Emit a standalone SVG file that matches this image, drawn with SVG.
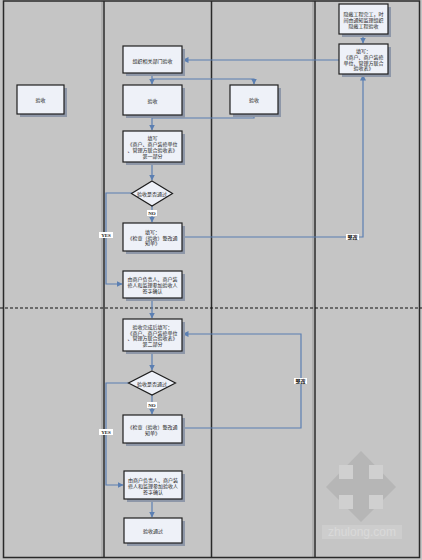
<svg xmlns="http://www.w3.org/2000/svg" width="422" height="560" viewBox="0 0 422 560">
<defs>
<style>
.bg{fill:#c5c5c5}
.lane{stroke:#2a2a2a;stroke-width:1.5;fill:none}
.lane2{stroke:#9a9a9a;stroke-width:1;fill:none}
.sh{fill:#8e97a8}
.box{fill:#eef1f8;stroke:#1e1e1e;stroke-width:1.2}
.t{font-family:"Noto Sans CJK SC","Liberation Serif",serif;font-size:5px;fill:#222;text-anchor:middle;dominant-baseline:central}
.c{stroke:#5b7fb2;stroke-width:1.2;fill:none}
.lbl{fill:#ffffff}
.lt{font-family:"Liberation Serif","Noto Sans CJK SC",serif;font-size:5px;font-weight:bold;fill:#222;text-anchor:middle;dominant-baseline:central}
</style>
<marker id="a" viewBox="0 0 6 6" refX="5.5" refY="3" markerWidth="5" markerHeight="5" orient="auto"><path d="M0,0L6,3L0,6z" fill="#5b7fb2"/></marker>
</defs>
<rect class="bg" x="0" y="0" width="422" height="560"/>
<g id="watermark" opacity="0.5">
<path d="M361,451L396,487L361,522L326,487z" fill="#a9a9a9"/>
<rect x="339" y="465" width="14" height="14" fill="#dcdcdc"/>
<rect x="369" y="465" width="14" height="14" fill="#dcdcdc"/>
<rect x="339" y="495" width="14" height="14" fill="#dcdcdc"/>
<rect x="369" y="495" width="14" height="14" fill="#dcdcdc"/>
<rect x="322" y="525" width="80" height="14" fill="#d6d6d6"/>
<text x="362" y="532" font-family="Liberation Sans,sans-serif" font-size="12" fill="#eeeeee" text-anchor="middle" dominant-baseline="central">zhulong.com</text>
</g>
<g id="lanes">
<line class="lane2" x1="102" y1="1" x2="102" y2="558"/>
<line class="lane2" x1="313" y1="1" x2="313" y2="558"/>
<rect class="lane" x="3.5" y="1" width="416" height="556.5"/>
<line class="lane" x1="104" y1="1" x2="104" y2="558"/>
<line class="lane" x1="211.5" y1="1" x2="211.5" y2="558"/>
<line class="lane" x1="315" y1="1" x2="315" y2="558"/>
<line x1="0" y1="308" x2="422" y2="308" stroke="#111" stroke-width="1.2" stroke-dasharray="3,2"/>
</g>
<g id="connectors">
<path class="c" d="M363,34V43" marker-end="url(#a)"/>
<path class="c" d="M339,60H183" marker-end="url(#a)"/>
<path class="c" d="M152,73V84" marker-end="url(#a)"/>
<path class="c" d="M152,79H254V84" marker-end="url(#a)"/>
<path class="c" d="M152,115V130" marker-end="url(#a)"/>
<path class="c" d="M254,114V118H152"/>
<path class="c" d="M152,162V180" marker-end="url(#a)"/>
<path class="c" d="M152,206V222" marker-end="url(#a)"/>
<path class="c" d="M132,193H106V284H122" marker-end="url(#a)"/>
<path class="c" d="M182,237H363V75" marker-end="url(#a)"/>
<path class="c" d="M152,298V318" marker-end="url(#a)"/>
<path class="c" d="M152,351V370" marker-end="url(#a)"/>
<path class="c" d="M152,395V414" marker-end="url(#a)"/>
<path class="c" d="M129,383H106V485H123" marker-end="url(#a)"/>
<path class="c" d="M182,428H301V334H183" marker-end="url(#a)"/>
<path class="c" d="M152,499V517" marker-end="url(#a)"/>
<rect class="lbl" x="147" y="210" width="10" height="6"/><text class="lt" x="152" y="213">NO</text>
<rect class="lbl" x="99" y="232" width="14" height="6"/><text class="lt" x="106" y="235">YES</text>
<rect class="lbl" x="346" y="234" width="13" height="6"/><text class="lt" x="352.5" y="237">整改</text>
<rect class="lbl" x="147" y="402" width="10" height="6"/><text class="lt" x="152" y="405">NO</text>
<rect class="lbl" x="99" y="429" width="14" height="6"/><text class="lt" x="106" y="432">YES</text>
<rect class="lbl" x="294" y="378" width="13" height="6"/><text class="lt" x="300.5" y="381">整改</text>
</g>
<g id="n1"><rect class="sh" x="342" y="7" width="49" height="30"/><rect class="box" x="339" y="4" width="49" height="30"/>
<text class="t" x="363.5" y="13">隐蔽工程完工，时</text><text class="t" x="363.5" y="19">间由通知监理组织</text><text class="t" x="363.5" y="25">隐蔽工程验收</text></g>
<g id="n2"><rect class="sh" x="342" y="47" width="49" height="30"/><rect class="box" x="339" y="44" width="49" height="30"/>
<text class="t" x="363.5" y="50.5">填写：</text><text class="t" x="363.5" y="56.3">《商户、商户装修</text><text class="t" x="363.5" y="62.1">单位、管理方联合</text><text class="t" x="363.5" y="67.9">验收表》</text></g>
<g id="n3"><rect class="sh" x="126" y="49" width="59" height="27"/><rect class="box" x="123" y="46" width="59" height="27"/>
<text class="t" x="152.5" y="60">组织相关部门验收</text></g>
<g id="n4"><rect class="sh" x="126" y="88" width="59" height="30"/><rect class="box" x="123" y="85" width="59" height="30"/>
<text class="t" x="152.5" y="100">验收</text></g>
<g id="n5"><rect class="sh" x="20" y="88" width="47" height="29"/><rect class="box" x="17" y="85" width="47" height="29"/>
<text class="t" x="40.5" y="99.5">验收</text></g>
<g id="n6"><rect class="sh" x="233" y="88" width="48" height="29"/><rect class="box" x="230" y="85" width="48" height="29"/>
<text class="t" x="254" y="99.5">验收</text></g>
<g id="n7"><rect class="sh" x="126" y="134" width="59" height="31"/><rect class="box" x="123" y="131" width="59" height="31"/>
<text class="t" x="152.5" y="137.8">填写</text><text class="t" x="152.5" y="143.6">《商户、商户装修单位</text><text class="t" x="152.5" y="149.4">、管理方联合验收表》</text><text class="t" x="152.5" y="155.2">第一部分</text></g>
<g id="d1"><path d="M152,181L172.5,193.5L152,206L131.5,193.5z" fill="#eef1f8" stroke="#1e1e1e" stroke-width="1.2"/>
<text class="t" x="152" y="193.5">验收是否通过</text></g>
<g id="n8"><rect class="sh" x="126" y="226" width="59" height="28"/><rect class="box" x="123" y="223" width="59" height="28"/>
<text class="t" x="152.5" y="231.2">填写：</text><text class="t" x="152.5" y="237">《检查（验收）整改通</text><text class="t" x="152.5" y="242.8">知单》</text></g>
<g id="n9"><rect class="sh" x="126" y="274" width="59" height="27"/><rect class="box" x="123" y="271" width="59" height="27"/>
<text class="t" x="152.5" y="278.7">由商户负责人、商户装</text><text class="t" x="152.5" y="284.5">修人和监理参加验收人</text><text class="t" x="152.5" y="290.3">签字确认</text></g>
<g id="n10"><rect class="sh" x="126" y="322" width="59" height="32"/><rect class="box" x="123" y="319" width="59" height="32"/>
<text class="t" x="152.5" y="326.3">验收完成后填写：</text><text class="t" x="152.5" y="332.1">《商户、商户装修单位</text><text class="t" x="152.5" y="337.9">、管理方联合验收表》</text><text class="t" x="152.5" y="343.7">第二部分</text></g>
<g id="d2"><path d="M152,371L175.5,383L152,395L128.5,383z" fill="#eef1f8" stroke="#1e1e1e" stroke-width="1.2"/>
<text class="t" x="152" y="383">验收是否通过</text></g>
<g id="n11"><rect class="sh" x="126" y="418" width="59" height="28"/><rect class="box" x="123" y="415" width="59" height="28"/>
<text class="t" x="152.5" y="426">《检查（验收）整改通</text><text class="t" x="152.5" y="432">知单》</text></g>
<g id="n12"><rect class="sh" x="127" y="474" width="58" height="28"/><rect class="box" x="124" y="471" width="58" height="28"/>
<text class="t" x="153" y="479">由商户负责人、商户装</text><text class="t" x="153" y="485">修人和监理参加验收人</text><text class="t" x="153" y="491">签字确认</text></g>
<g id="n13"><rect class="sh" x="127" y="521" width="58" height="25"/><rect class="box" x="124" y="518" width="58" height="25"/>
<text class="t" x="153" y="530.5">验收通过</text></g>
</svg>
